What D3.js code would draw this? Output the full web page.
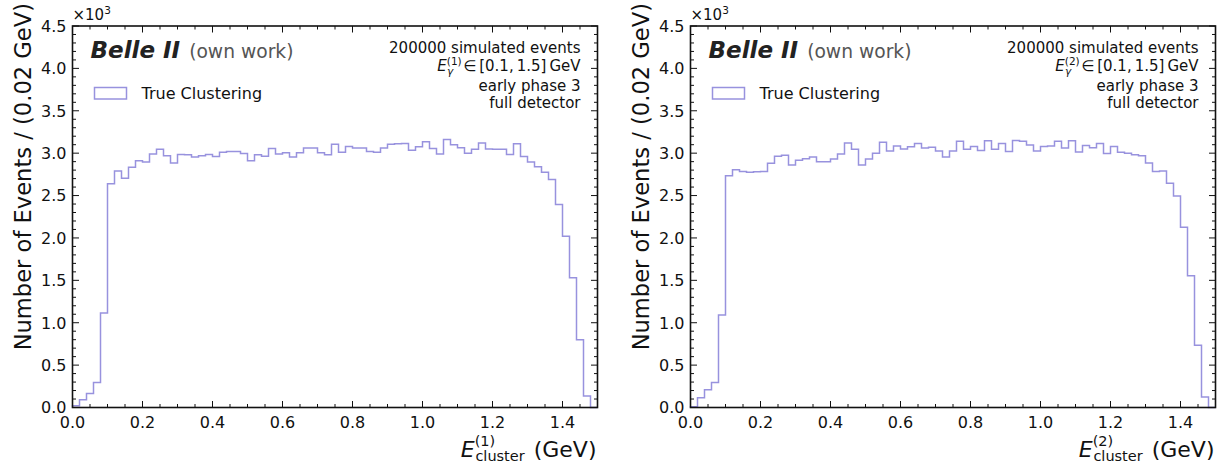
<!DOCTYPE html>
<html>
<head>
<meta charset="utf-8">
<script src="https://cdn.jsdelivr.net/npm/d3@7"></script>
<style>
  body { margin: 0; background: #fff; }
  text { font-family: "DejaVu Sans", sans-serif; fill: #111; }
</style>
</head>
<body>
<svg id="chart" width="1222" height="468"></svg>
<script>
// bin definition: 75 bins of 0.02 GeV between 0 and 1.5 GeV
var binWidth = 0.02;
var nBins = 75;

// counts per bin
var countsCluster1 = [
  20, 90, 165, 295, 1115, 2640, 2790, 2705, 2835, 2910,
  2895, 2990, 3045, 2970, 2885, 2985, 2980, 2955, 2970, 2985,
  2960, 3010, 3020, 3020, 2995, 2910, 2980, 2965, 3055, 2990,
  3005, 2955, 3005, 3060, 3060, 3005, 2980, 3105, 3010, 3080,
  3060, 3060, 3020, 3010, 3060, 3105, 3110, 3115, 3035, 3075,
  3135, 3055, 2990, 3160, 3100, 3065, 3000, 3045, 3120, 3050,
  3045, 3045, 2985, 3110, 2960, 2895, 2840, 2775, 2690, 2395,
  2020, 1530, 800, 135, 0
];
var countsCluster2 = [
  10, 115, 210, 295, 1090, 2735, 2805, 2785, 2775, 2780,
  2785, 2880, 2965, 2975, 2860, 2915, 2935, 2955, 2900, 2900,
  2930, 2990, 3120, 3045, 2860, 2930, 3000, 3130, 3025, 3085,
  3050, 3075, 3115, 3060, 3070, 3025, 2955, 3025, 3140, 3045,
  3080, 3030, 3145, 3045, 3115, 3020, 3150, 3140, 3095, 3025,
  3080, 3085, 3140, 3060, 3145, 3015, 3090, 3065, 3115, 2995,
  3080, 3010, 3000, 2980, 2970, 2885, 2785, 2790, 2645, 2495,
  2125, 1555, 735, 125, 0
];

var xTicks = [0.0, 0.2, 0.4, 0.6, 0.8, 1.0, 1.2, 1.4];
var yTicks = [0, 500, 1000, 1500, 2000, 2500, 3000, 3500, 4000, 4500];
var legendLabel = "True Clustering";
var infoLines = ["200000 simulated events", "E", "early phase 3", "full detector"];

var lineColor = "#9892de";
var plotTop = 26, plotBottom = 407.5, plotW = 525;

var svg = d3.select("#chart");

function drawPanel(x0, counts, idx) {
  var x = d3.scaleLinear().domain([0, 1.5]).range([x0, x0 + plotW]);
  var y = d3.scaleLinear().domain([0, 4500]).range([plotBottom, plotTop]);
  var g = svg.append("g");

  // histogram outline (step)
  var pts = [[0, 0]];
  counts.forEach(function (c, i) {
    pts.push([i * binWidth, c]);
    pts.push([(i + 1) * binWidth, c]);
  });
  pts.push([nBins * binWidth, 0]);
  var line = d3.line().x(function (d) { return x(d[0]); }).y(function (d) { return y(d[1]); });
  g.append("path").attr("d", line(pts))
    .attr("fill", "none").attr("stroke", lineColor).attr("stroke-width", 1.5);

  // ticks, inward on all four sides
  var xMinor = d3.range(0, 1.5001, 0.05);
  var yMinor = d3.range(0, 4500.1, 100);
  var tk = g.append("g").attr("stroke", "#111").attr("stroke-width", 1);
  xMinor.forEach(function (v) {
    var major = Math.abs(v / 0.2 - Math.round(v / 0.2)) < 1e-6;
    var L = major ? 6.5 : 3.5;
    tk.append("line").attr("x1", x(v)).attr("x2", x(v)).attr("y1", plotBottom).attr("y2", plotBottom - L);
    tk.append("line").attr("x1", x(v)).attr("x2", x(v)).attr("y1", plotTop).attr("y2", plotTop + L);
  });
  yMinor.forEach(function (v) {
    var major = v % 500 === 0;
    var L = major ? 6.5 : 3.5;
    tk.append("line").attr("y1", y(v)).attr("y2", y(v)).attr("x1", x0).attr("x2", x0 + L);
    tk.append("line").attr("y1", y(v)).attr("y2", y(v)).attr("x1", x0 + plotW).attr("x2", x0 + plotW - L);
  });

  // frame
  g.append("rect").attr("x", x0).attr("y", plotTop).attr("width", plotW).attr("height", plotBottom - plotTop)
    .attr("fill", "none").attr("stroke", "#111").attr("stroke-width", 1.6);

  // tick labels
  g.selectAll(".xl").data(xTicks).enter().append("text")
    .attr("x", function (d) { return x(d); }).attr("y", plotBottom + 20)
    .attr("text-anchor", "middle").attr("font-size", 16)
    .text(function (d) { return d.toFixed(1); });
  g.selectAll(".yl").data(yTicks).enter().append("text")
    .attr("x", x0 - 6).attr("y", function (d) { return y(d) + 5.8; })
    .attr("text-anchor", "end").attr("font-size", 16)
    .text(function (d) { return (d / 1000).toFixed(1); });

  // offset text x10^3
  var off = g.append("text").attr("x", x0).attr("y", 20).attr("font-size", 15);
  off.append("tspan").text("\u00d710");
  off.append("tspan").attr("font-size", 10.5).attr("dy", -6).text("3");

  // y label
  g.append("text")
    .attr("transform", "translate(" + (x0 - 42) + "," + 3 + ") rotate(-90)")
    .attr("text-anchor", "end").attr("font-size", 22.6)
    .text("Number of Events / (0.02 GeV)");

  // x label
  var xl = g.append("text").attr("x", x0 + plotW - 1).attr("y", 457)
    .attr("text-anchor", "end").attr("font-size", 22);
  xl.append("tspan").attr("font-style", "italic").text("E");
  xl.append("tspan").attr("font-size", 14.5).attr("dy", -11).text("(" + idx + ")");
  xl.append("tspan").attr("font-size", 14.5).attr("dx", -19.8).attr("dy", 15).text("cluster");
  xl.append("tspan").attr("dy", -4).attr("dx", 2).text(" (GeV)");

  // Belle II label
  var bl = g.append("text").attr("x", x0 + 18).attr("y", 58);
  bl.append("tspan").attr("font-size", 23).attr("font-weight", "bold").attr("font-style", "italic")
    .attr("fill", "#222").text("Belle II");
  bl.append("tspan").attr("font-size", 18.7).attr("fill", "#555").attr("dx", 9).text("(own work)");

  // legend
  g.append("rect").attr("x", x0 + 22).attr("y", 87.5).attr("width", 32).attr("height", 11.5)
    .attr("fill", "none").attr("stroke", lineColor).attr("stroke-width", 1.5);
  g.append("text").attr("x", x0 + 69).attr("y", 99).attr("font-size", 16).text(legendLabel);

  // info text, right aligned
  var rx = x0 + plotW - 17;
  g.append("text").attr("x", rx).attr("y", 53).attr("text-anchor", "end").attr("font-size", 15).text(infoLines[0]);
  var m = g.append("text").attr("x", rx).attr("y", 71).attr("text-anchor", "end").attr("font-size", 15);
  m.append("tspan").attr("font-style", "italic").text("E");
  m.append("tspan").attr("font-size", 10.5).attr("dy", -6).text("(" + idx + ")");
  m.append("tspan").attr("font-size", 10.5).attr("font-style", "italic").attr("dx", -14.8).attr("dy", 10).text("\u03b3");
  m.append("tspan").attr("dx", 10).attr("dy", -4).text("\u2208\u2009[0.1,\u20091.5]\u2009GeV");
  g.append("text").attr("x", rx).attr("y", 91).attr("text-anchor", "end").attr("font-size", 15).text(infoLines[2]);
  g.append("text").attr("x", rx).attr("y", 108).attr("text-anchor", "end").attr("font-size", 15).text(infoLines[3]);
}

drawPanel(72.5, countsCluster1, 1);
drawPanel(690.5, countsCluster2, 2);
</script>
</body>
</html>
